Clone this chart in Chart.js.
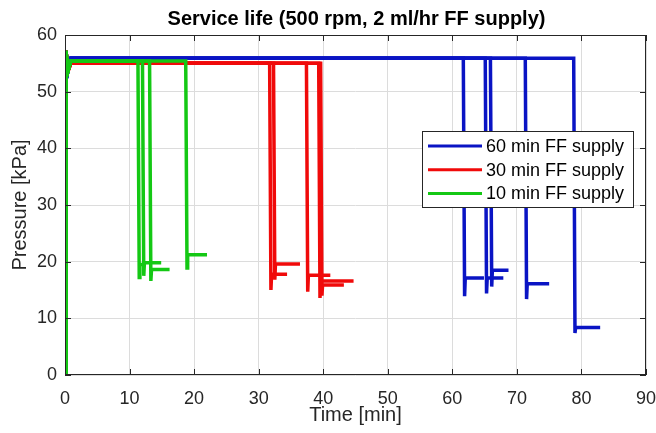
<!DOCTYPE html>
<html>
<head>
<meta charset="utf-8">
<script src="https://cdn.jsdelivr.net/npm/chart.js@4.4.1/dist/chart.umd.min.js"></script>
<style>
    html, body { margin: 0; padding: 0; background: #fff; }
    #wrap { width: 656px; height: 433px; }
</style>
</head>
<body>
<div id="wrap"><canvas id="serviceLifeChart" width="656" height="433"></canvas></div>
<script>
// axis ticks
const timeTicks = [0, 10, 20, 30, 40, 50, 60, 70, 80, 90];
const pressureTicks = [0, 10, 20, 30, 40, 50, 60];

// legend labels, one per supply setting
const seriesLabels = ['60 min FF supply', '30 min FF supply', '10 min FF supply'];

// start-up transient shared by every run (time [min], pressure [kPa])
const startTime = [0, 0.15, 0.45, 0.9];
const startPressure = [0, 57.2, 53.6];

// 60 min FF supply: plateau, failure time, dip, settled pressure, end of record
const bluePlateau = 55.9;
const blueFail = [61.7, 65.1, 65.9, 71.3, 78.8];
const blueDip = [13.9, 14.4, 15.6, 13.4, 7.4];
const blueAfter = [17.1, 17.1, 18.5, 16.1, 8.4];
const blueEnd = [64.9, 67.9, 68.7, 75.0, 82.9];

// 30 min FF supply
const redPlateau = 55.0;
const redFail = [31.7, 32.3, 37.4, 39.3, 39.6];
const redDip = [15.0, 16.8, 14.7, 13.6, 14.0];
const redAfter = [17.8, 19.6, 17.6, 16.6, 15.9];
const redEnd = [34.4, 36.4, 41.1, 44.7, 43.2];

// 10 min FF supply
const greenPlateau = 55.4;
const greenFail = [11.3, 12.0, 13.1, 18.7];
const greenDip = [17.2, 17.5, 16.6, 18.9];
const greenAfter = [19.5, 19.8, 18.6, 21.2];
const greenEnd = [12.4, 14.9, 16.2, 22.0];

const seriesColors = ['#0a14c4', '#f00a0a', '#14c814'];

function buildRuns(seriesIndex, plateau, fail, dip, after, end, order) {
    return fail.map((t, i) => {
        const pts = startTime.map((st, k) => ({
            x: st,
            y: k < startPressure.length ? startPressure[k] : plateau
        }));
        pts.push({ x: t, y: plateau });
        pts.push({ x: t + 0.2, y: dip[i] });
        pts.push({ x: t + 0.3, y: after[i] });
        pts.push({ x: end[i], y: after[i] });
        return {
            label: seriesLabels[seriesIndex],
            data: pts,
            borderColor: seriesColors[seriesIndex],
            borderWidth: 3.5,
            pointRadius: 0,
            fill: false,
            tension: 0,
            order: order
        };
    });
}

const datasets = [].concat(
    buildRuns(0, bluePlateau, blueFail, blueDip, blueAfter, blueEnd, 2),
    buildRuns(1, redPlateau, redFail, redDip, redAfter, redEnd, 1),
    buildRuns(2, greenPlateau, greenFail, greenDip, greenAfter, greenEnd, 0)
);

const FONT = '"Liberation Sans", Arial, Helvetica, sans-serif';
const AXIS_COLOR = '#262626';

// MATLAB style box, inward ticks, title and legend
const matlabDecor = {
    id: 'matlabDecor',
    afterDatasetsDraw(chart) {
        const { ctx, chartArea: a, scales } = chart;
        ctx.save();
        ctx.strokeStyle = AXIS_COLOR;
        ctx.lineWidth = 1;
        ctx.strokeRect(a.left + 0.5, a.top + 0.5, a.width - 1, a.height - 1);

        ctx.beginPath();
        timeTicks.forEach(v => {
            const px = Math.round(scales.x.getPixelForValue(v)) + 0.5;
            ctx.moveTo(px, a.bottom); ctx.lineTo(px, a.bottom - 6);
            ctx.moveTo(px, a.top); ctx.lineTo(px, a.top + 6);
        });
        pressureTicks.forEach(v => {
            const py = Math.round(scales.y.getPixelForValue(v)) + 0.5;
            ctx.moveTo(a.left, py); ctx.lineTo(a.left + 6, py);
            ctx.moveTo(a.right, py); ctx.lineTo(a.right - 6, py);
        });
        ctx.stroke();

        // title
        ctx.fillStyle = '#000';
        ctx.font = 'bold 20px ' + FONT;
        ctx.textAlign = 'center';
        ctx.textBaseline = 'middle';
        ctx.fillText('Service life (500 rpm, 2 ml/hr FF supply)', (a.left + a.right) / 2 + 1, 19);

        // legend
        const lx = 422, ly = 131, lw = 211, lh = 76;
        ctx.fillStyle = '#fff';
        ctx.fillRect(lx, ly, lw, lh);
        ctx.strokeStyle = AXIS_COLOR;
        ctx.lineWidth = 1;
        ctx.strokeRect(lx + 0.5, ly + 0.5, lw, lh);
        ctx.font = '18px ' + FONT;
        ctx.textAlign = 'left';
        seriesLabels.forEach((lab, i) => {
            const yy = 146 + i * 23.7;
            ctx.strokeStyle = seriesColors[i];
            ctx.lineWidth = 3;
            ctx.beginPath();
            ctx.moveTo(428, yy); ctx.lineTo(482, yy);
            ctx.stroke();
            ctx.fillStyle = '#000';
            ctx.fillText(lab, 486, yy + 1);
        });
        ctx.restore();
    }
};

new Chart(document.getElementById('serviceLifeChart').getContext('2d'), {
    type: 'line',
    data: { datasets: datasets },
    options: {
        responsive: false,
        animation: false,
        layout: { padding: { top: 35, right: 0, left: 0, bottom: 0 } },
        plugins: {
            legend: { display: false },
            title: { display: false },
            tooltip: { enabled: false }
        },
        scales: {
            x: {
                type: 'linear',
                min: 0,
                max: 90,
                afterFit: s => { s.height = 58; s.paddingLeft = 0; s.paddingRight = 10; },
                afterBuildTicks: s => { s.ticks = timeTicks.map(v => ({ value: v })); },
                grid: { color: '#dcdcdc', drawTicks: false },
                border: { display: false },
                ticks: {
                    padding: 13,
                    color: AXIS_COLOR,
                    font: { family: FONT, size: 18 },
                    maxRotation: 0
                },
                title: {
                    display: true,
                    text: 'Time [min]',
                    color: AXIS_COLOR,
                    font: { family: FONT, size: 20 },
                    padding: { bottom: 6 }
                }
            },
            y: {
                type: 'linear',
                min: 0,
                max: 60,
                afterFit: s => { s.width = 65; },
                afterBuildTicks: s => { s.ticks = pressureTicks.map(v => ({ value: v })); },
                grid: { color: '#dcdcdc', drawTicks: false },
                border: { display: false },
                ticks: {
                    padding: 8,
                    color: AXIS_COLOR,
                    font: { family: FONT, size: 18 }
                },
                title: {
                    display: true,
                    text: 'Pressure [kPa]',
                    color: AXIS_COLOR,
                    font: { family: FONT, size: 20 },
                    padding: { top: 8 }
                }
            }
        }
    },
    plugins: [matlabDecor]
});
</script>
</body>
</html>
